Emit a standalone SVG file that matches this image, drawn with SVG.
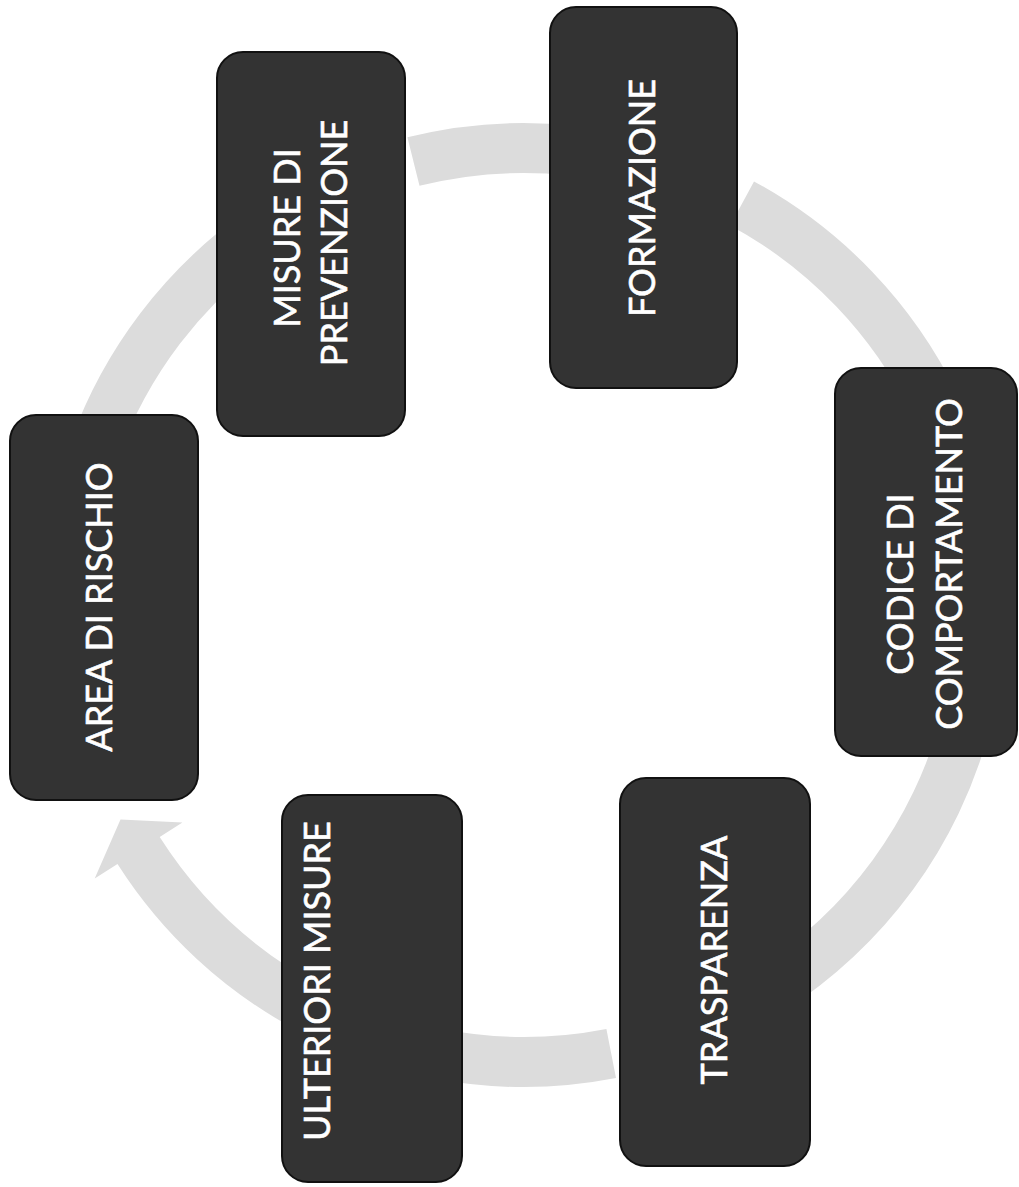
<svg xmlns="http://www.w3.org/2000/svg" width="1019" height="1187" viewBox="0 0 1019 1187">
<style>
.box{fill:#333333;stroke:#111;stroke-width:2}
.lbl{fill:#fff;stroke:#fff;stroke-width:0.6;font-family:Lato,"Open Sans","DejaVu Sans",sans-serif;font-size:36px;text-anchor:middle}
.arc{fill:#dcdcdc;stroke:none}
</style>
<rect width="1019" height="1187" fill="#fff"/>
<g id="connectors">
<path class="arc" d="M407.4 137.3 A482 482 0 0 1 574.4 125.7 L577.2 98.8 L611.2 156.4 L566.3 202.2 L569.1 175.4 A432 432 0 0 0 419.5 185.8 Z"/>
<path class="arc" d="M754 181.4 A482 482 0 0 1 957.2 393.7 L981.5 381.9 L950.7 441.2 L888 427.4 L912.3 415.6 A432 432 0 0 0 730.2 225.4 Z"/>
<path class="arc" d="M989.6 729.7 A482 482 0 0 1 783 1011.5 L797.5 1034.3 L735 1010.4 L741.6 946.6 L756.1 969.3 A432 432 0 0 0 941.3 716.8 Z"/>
<path class="arc" d="M616 1078.1 A482 482 0 0 1 436.2 1079 L431.3 1105.5 L401.9 1045.4 L450.2 1003.2 L445.3 1029.8 A432 432 0 0 0 606.4 1029 Z"/>
<path class="arc" d="M297.7 1030.6 A482 482 0 0 1 117.5 864 L94.7 878.5 L120.5 819.6 L182.4 822.6 L159.7 837.1 A432 432 0 0 0 321.2 986.4 Z"/>
<path class="arc" d="M71.1 440.2 A482 482 0 0 1 244.1 212.6 L228.4 190.6 L292.1 211.3 L288.8 275.3 L273.1 253.3 A432 432 0 0 0 118 457.3 Z"/>
</g>
<g id="node-misure">
<rect class="box" x="217" y="52" width="188" height="384" rx="26"/>
<text class="lbl" transform="translate(300 238) rotate(-90)">MISURE DI</text>
<text class="lbl" transform="translate(347 243) rotate(-90)">PREVENZIONE</text>
</g>
<g id="node-formazione">
<rect class="box" x="550" y="7" width="187" height="381" rx="26"/>
<text class="lbl" transform="translate(655 198) rotate(-90)">FORMAZIONE</text>
</g>
<g id="node-codice">
<rect class="box" x="835" y="368" width="182" height="388" rx="26"/>
<text class="lbl" transform="translate(913 584) rotate(-90)">CODICE DI</text>
<text class="lbl" transform="translate(962 564) rotate(-90)">COMPORTAMENTO</text>
</g>
<g id="node-trasparenza">
<rect class="box" x="620" y="778" width="190" height="388" rx="26"/>
<text class="lbl" transform="translate(727 960) rotate(-90)">TRASPARENZA</text>
</g>
<g id="node-ulteriori">
<rect class="box" x="282" y="795" width="180" height="387" rx="26"/>
<text class="lbl" transform="translate(330 981) rotate(-90)">ULTERIORI MISURE</text>
</g>
<g id="node-area">
<rect class="box" x="10" y="415" width="188" height="385" rx="26"/>
<text class="lbl" transform="translate(112 607) rotate(-90)">AREA DI RISCHIO</text>
</g>
</svg>
